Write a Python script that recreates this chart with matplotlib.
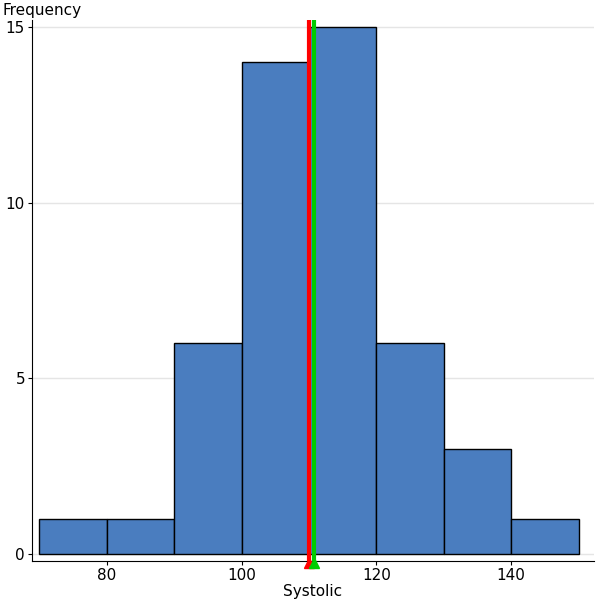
import numpy as np
import matplotlib
matplotlib.use("Agg")
import matplotlib.pyplot as plt

bin_edges = [70, 80, 90, 100, 110, 120, 130, 140, 150]
counts = [1, 1, 6, 14, 15, 6, 3, 1]
mean_val = 110.0
median_val = 110.75

fig = plt.figure(figsize=(6.01, 6.01), dpi=100)
ax = fig.add_axes([32/601, 40/601, (594-32)/601, (561-20)/601])

lefts = bin_edges[:-1]
widths = np.diff(bin_edges)
ax.bar(lefts, counts, width=widths, align='edge', color='#4a7dbf',
       edgecolor='black', linewidth=1, zorder=2)

ax.axvline(mean_val, color='#ff0000', lw=3, zorder=3)
ax.axvline(median_val, color='#00cc00', lw=3, zorder=3)
ax.plot([mean_val], [-0.25], marker='^', color='#ff0000', ms=7, clip_on=False, zorder=4)
ax.plot([median_val], [-0.25], marker='^', color='#00cc00', ms=7, clip_on=False, zorder=5)

ax.set_xlim(68.9, 152.3)
ax.set_ylim(-0.2, 15.2)
ax.set_yticks([0, 5, 10, 15])
ax.set_xticks([80, 100, 120, 140])
ax.yaxis.grid(True, color='#e5e5e5', lw=1, zorder=0)
ax.set_axisbelow(True)
for s in ['top', 'right']:
    ax.spines[s].set_visible(False)
ax.tick_params(labelsize=11, length=3, direction='out', pad=2)
ax.set_xlabel('Systolic', fontsize=11, labelpad=1)
fig.text(2/601, 1 - 10/601, 'Frequency', fontsize=11, va='center', ha='left')

fig.savefig('out.png', dpi=100)
